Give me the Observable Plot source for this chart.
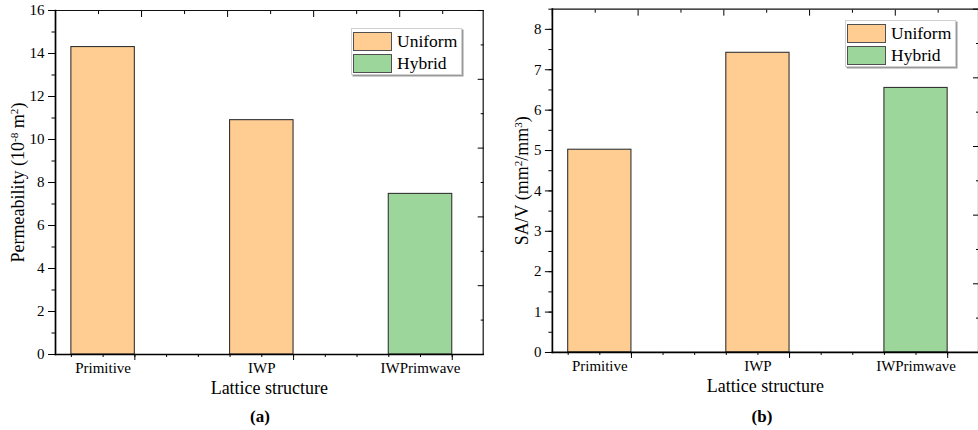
<!DOCTYPE html>
<html>
<head>
<meta charset="utf-8">
<script src="https://cdn.jsdelivr.net/npm/d3@7"></script>
<script src="https://cdn.jsdelivr.net/npm/@observablehq/plot@0.6"></script>
<style>
  html, body { margin: 0; padding: 0; background: #fff; }
  body { width: 978px; height: 430px; overflow: hidden; position: relative; font-family: "Liberation Serif", "Times New Roman", serif; }
  .panel { position: absolute; top: 0; overflow: hidden; }
  .caption { position: absolute; top: 407px; font: bold 17px "Liberation Serif", serif; color: #000; text-align: center; width: 40px; line-height: 20px; }
  .legend { position: absolute; background: #fff; border: 1px solid #cfcfcf; box-shadow: 1.5px 1.5px 0 #9a9a9a; box-sizing: border-box; }
  .legend .row { position: absolute; left: 1px; height: 21px; display: flex; align-items: center; }
  .legend .sw { width: 39px; height: 19px; border: 1px solid #505050; box-sizing: border-box; }
  .legend .lab { margin-left: 5px; font-size: 17.5px; color: #000; font-family: "Liberation Serif", serif; }
</style>
</head>
<body>
<script>
// ---- data ----
const categories = ["Primitive", "IWP", "IWPrimwave"];
const structureTypes = ["Uniform", "Uniform", "Hybrid"];
const permeability = [14.3, 10.9, 7.47];     // 10^-8 m^2
const surfaceToVolume = [5.02, 7.42, 6.55];  // mm^2/mm^3
const legendNames = ["Uniform", "Hybrid"];
const legendColors = ["#FFCC91", "#9DD69B"];
const xAxisTitle = "Lattice structure";
const yTitleA = "Permeability (10^{-8} m^{2})";
const yTitleB = "SA/V (mm^{2}/mm^{3})";

const FONT = "'Liberation Serif', 'Times New Roman', serif";

function superscriptify(svg, raw) {
  d3.select(svg).selectAll("text").each(function () {
    if (this.textContent !== raw) return;
    const sel = d3.select(this);
    sel.text(null);
    const parts = raw.split(/\^\{([^}]*)\}/);
    parts.forEach((p, i) => {
      if (!p) return;
      const t = sel.append("tspan").text(p);
      if (i % 2 === 1) t.attr("baseline-shift", "super").attr("font-size", "0.62em");
    });
  });
}

function panel({values, yMax, yMajor, yMinor, width, marginLeft, marginRight, marginTop, yTitle, yTitleDx}) {
  const data = categories.map((c, i) => ({cat: c, pos: i + 1, value: values[i], type: structureTypes[i]}));
  const xDomain = [0.70, 3.395];
  const topStep = 0.2711;
  const topTicks = d3.range(xDomain[0], xDomain[1], topStep);
  const height = 400;
  const svg = Plot.plot({
    width, height,
    marginLeft, marginRight, marginTop,
    marginBottom: height - (marginTop + 344),
    style: {fontFamily: FONT, fontSize: "15px", color: "#000", background: "#fff"},
    x: {domain: xDomain},
    y: {domain: [0, yMax]},
    color: {domain: legendNames, range: legendColors},
    marks: [
      Plot.rectY(data, {x1: d => d.pos - 0.2, x2: d => d.pos + 0.2, y1: 0, y2: "value", fill: "type", stroke: "#333", strokeWidth: 1.1}),
      // frame
      Plot.frame({anchor: "top", stroke: "#111", strokeWidth: 1.2}),
      Plot.frame({anchor: "right", stroke: "#111", strokeWidth: 1.2}),
      Plot.frame({anchor: "left", stroke: "#000", strokeWidth: 1.7}),
      Plot.frame({anchor: "bottom", stroke: "#000", strokeWidth: 1.7}),
      // left y axis
      Plot.axisY({ticks: d3.range(0, yMax + 1e-9, yMajor), tickSize: 7, tickPadding: 4, label: null, fontSize: 15, tickFormat: d3.format("d")}),
      Plot.axisY({ticks: d3.range(0, yMax + 1e-9, yMinor), tickSize: 3.5, label: null, tickFormat: () => ""}),
      // mirrored right axis (inward ticks)
      Plot.axisY({anchor: "right", ticks: d3.range(0, 5.01, 1).map(k => k * yMax / 5), tickSize: -6, label: null, tickFormat: () => ""}),
      Plot.axisY({anchor: "right", ticks: d3.range(0.5, 5, 1).map(k => k * yMax / 5), tickSize: -3, label: null, tickFormat: () => ""}),
      // bottom x axis
      Plot.axisX({ticks: data.map(d => d.pos), tickSize: 0, tickPadding: 8, label: null, fontSize: 15, tickFormat: d => categories[d - 1]}),
      Plot.axisX({ticks: data.map(d => d.pos + 0.2), tickSize: 6, label: null, tickFormat: () => ""}),
      Plot.axisX({ticks: d3.range(0.8, 3.25, 0.2), tickSize: 3, label: null, tickFormat: () => ""}),
      // top axis (inward ticks)
      Plot.axisX({anchor: "top", ticks: topTicks.filter((d, i) => i % 2 === 0), tickSize: -6, label: null, tickFormat: () => ""}),
      Plot.axisX({anchor: "top", ticks: topTicks.filter((d, i) => i % 2 === 1), tickSize: -3, label: null, tickFormat: () => ""}),
      // axis titles
      Plot.text([xAxisTitle], {frameAnchor: "bottom", dy: 34, text: d => d, fontSize: 18, lineAnchor: "middle", fill: "#000"}),
      Plot.text([yTitle], {frameAnchor: "left", dx: yTitleDx, rotate: -90, text: d => d, fontSize: 18, lineAnchor: "middle", textAnchor: "middle", fill: "#000"})
    ]
  });
  superscriptify(svg, yTitle);
  return svg;
}

function addPanel(left, width, svg, captionText, captionX) {
  const div = document.createElement("div");
  div.className = "panel";
  div.style.left = left + "px";
  div.style.width = width + "px";
  div.style.height = "400px";
  div.appendChild(svg);
  document.body.appendChild(div);
  const cap = document.createElement("div");
  cap.className = "caption";
  cap.style.left = (captionX - 20) + "px";
  cap.textContent = captionText;
  document.body.appendChild(cap);
}

function addLegend(left, top) {
  const box = document.createElement("div");
  box.className = "legend";
  box.style.left = left + "px";
  box.style.top = top + "px";
  box.style.width = "111px";
  box.style.height = "47px";
  legendNames.forEach((name, i) => {
    const row = document.createElement("div");
    row.className = "row";
    row.style.top = (2 + i * 22) + "px";
    const sw = document.createElement("div");
    sw.className = "sw";
    sw.style.background = legendColors[i];
    const lab = document.createElement("span");
    lab.className = "lab";
    lab.textContent = name;
    row.appendChild(sw);
    row.appendChild(lab);
    box.appendChild(row);
  });
  document.body.appendChild(box);
}

const svgA = panel({values: permeability, yMax: 16, yMajor: 2, yMinor: 1, width: 489, marginLeft: 55, marginRight: 6.3, marginTop: 10, yTitle: yTitleA, yTitleDx: -37});
addPanel(0, 489, svgA, "(a)", 260);
addLegend(351, 28);

const svgB = panel({values: surfaceToVolume, yMax: 8.5, yMajor: 1, yMinor: 0.5, width: 490, marginLeft: 63, marginRight: 0, marginTop: 8.7, yTitle: yTitleB, yTitleDx: -30});
addPanel(489, 489, svgB, "(b)", 762);
addLegend(845, 20);
</script>
</body>
</html>
